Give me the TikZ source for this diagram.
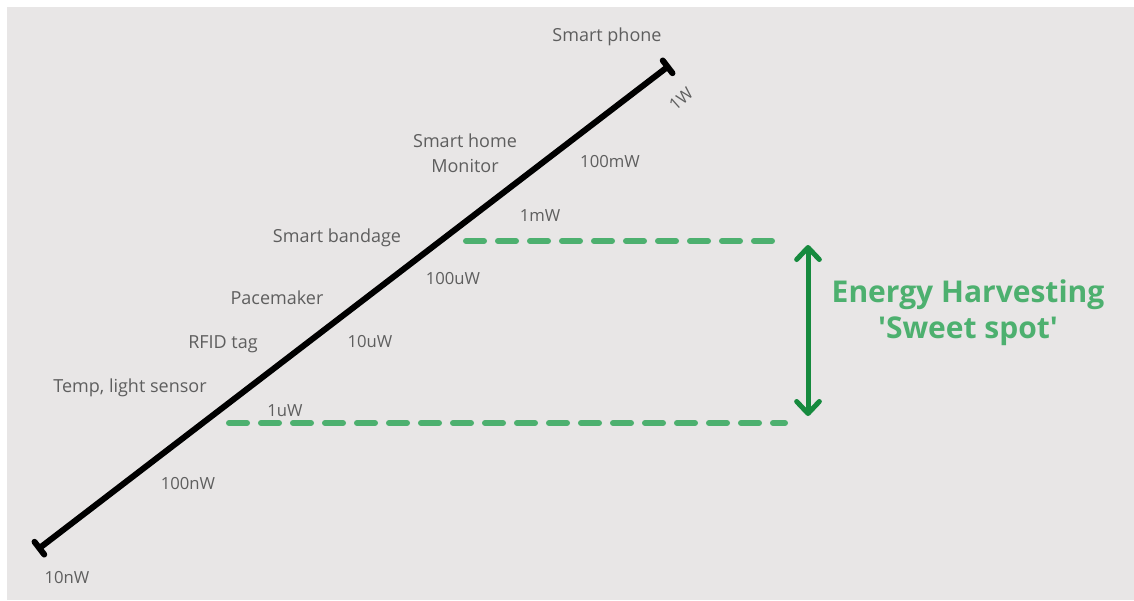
\documentclass[tikz,border=0pt]{standalone}
\usepackage{fontspec}
\setmainfont{Open Sans}
\usetikzlibrary{arrows.meta}

\definecolor{canvas}{HTML}{E8E6E6}
\definecolor{labelgray}{HTML}{5E5E5E}
\definecolor{leaf}{HTML}{4DB06F}
\definecolor{forest}{HTML}{168A3E}

\begin{document}
\begin{tikzpicture}[
    x=0.75pt, y=-0.75pt,
    device/.style={text=labelgray, font=\fontsize{13.5}{18.5}\selectfont, inner sep=0pt, align=center},
    power/.style={text=labelgray, font=\fontsize{12.5}{15}\selectfont, inner sep=0pt},
    scaleline/.style={line width=4.5pt, {Bar[width=12pt,round]}-{Bar[width=12pt,round]}},
    band/.style={leaf, line width=4.5pt, line cap=round, dash pattern=on 13.5pt off 10.5pt},
    span/.style={forest, line width=3.75pt, line cap=round, {Straight Barb[round,length=9pt,width=17pt]}-{Straight Barb[round,length=9pt,width=17pt]}}
]

% Canvas
\useasboundingbox (0,0) rectangle (1134,600);
\fill[white] (0,0) rectangle (1134,600);
\fill[canvas] (7,7) rectangle (1134,600);

% Power scale
\coordinate (low) at (37,550);
\coordinate (high) at (670,65);
\draw[scaleline] (low) -- (high);

% Devices
\node[device] (phone) at (607,37) {Smart phone};
\node[device] (home) at (465,153) {Smart home\\Monitor};
\node[device] (bandage) at (337,238) {Smart bandage};
\node[device] (pacemaker) at (277,298) {Pacemaker};
\node[device] (rfid) at (223,344) {RFID tag};
\node[device] (sensor) at (130,388) {Temp, light sensor};

% Power levels
\node[power, rotate=42] (w1) at (681,99) {1W};
\node[power] (mw100) at (610,162) {100mW};
\node[power] (mw1) at (540,216) {1mW};
\node[power] (uw100) at (453,279) {100uW};
\node[power] (uw10) at (370,342) {10uW};
\node[power] (uw1) at (285,411) {1uW};
\node[power] (nw100) at (188,484) {100nW};
\node[power] (nw10) at (67,578) {10nW};

% Sweet spot band
\coordinate (top start) at (466,241);
\coordinate (top end) at (778,241);
\coordinate (bottom start) at (229,423);
\coordinate (bottom end) at (785,423);
\draw[band] (top start) -- (top end);
\draw[band] (bottom start) -- (bottom end);

\coordinate (span top) at (808,245);
\coordinate (span bottom) at (808,416);
\draw[span] (span top) -- (span bottom);

\node[text=leaf, font=\fontsize{22.5}{27}\selectfont\bfseries, align=center, inner sep=0pt] (sweet) at (968,313) {Energy Harvesting\\\textquotesingle Sweet spot\textquotesingle};

\end{tikzpicture}
\end{document}
